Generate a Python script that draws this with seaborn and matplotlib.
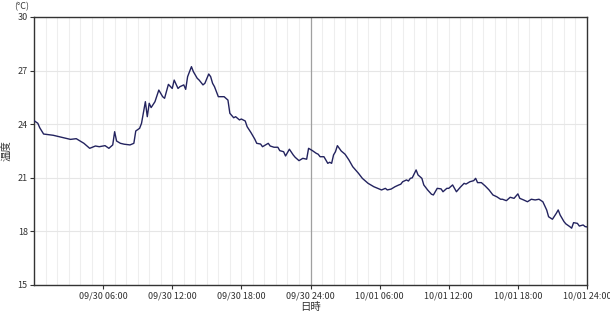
import matplotlib
matplotlib.use("Agg")
import matplotlib.pyplot as plt
import seaborn as sns
import pandas as pd
from matplotlib.ticker import MultipleLocator

# minutes since 09/30 00:00
minutes = [0, 20, 30, 50, 100, 150, 190, 220, 260, 290, 320, 340, 370, 390, 410, 420, 430, 450, 470, 500,
           520, 530, 550, 560, 580, 590, 600, 610, 630, 650, 670, 680, 700, 720, 730, 750, 760, 780, 790, 800,
           820, 830, 850, 860, 880, 890, 910, 920, 930, 940, 960, 980, 990, 1010, 1020, 1040, 1050, 1070, 1080, 1100,
           1110, 1130, 1150, 1160, 1180, 1190, 1220, 1230, 1250, 1270, 1280, 1300, 1310, 1330, 1350, 1360, 1380, 1400, 1420, 1430,
           1450, 1470, 1480, 1490, 1510, 1520, 1530, 1540, 1550, 1560, 1570, 1580, 1600, 1620, 1640, 1660, 1690, 1710, 1740, 1770,
           1790, 1810, 1830, 1840, 1860, 1880, 1900, 1910, 1920, 1940, 1950, 1960, 1970, 1990, 2000, 2020, 2030, 2050, 2070, 2080,
           2100, 2120, 2130, 2150, 2160, 2180, 2200, 2220, 2240, 2250, 2270, 2290, 2300, 2310, 2330, 2350, 2370, 2390, 2410, 2430,
           2440, 2460, 2480, 2500, 2520, 2530, 2550, 2570, 2590, 2610, 2630, 2650, 2670, 2680, 2700, 2720, 2730, 2740, 2760, 2770,
           2790, 2800, 2810, 2830, 2840, 2860, 2870, 2880]
temperature = [24.2, 24.05, 23.8, 23.45, 23.38, 23.25, 23.15, 23.19, 22.93, 22.65, 22.78, 22.74, 22.8, 22.65, 22.84, 23.58, 23.06, 22.93, 22.88, 22.84,
               22.93, 23.62, 23.77, 24.05, 25.26, 24.42, 25.17, 24.93, 25.26, 25.91, 25.54, 25.45, 26.23, 26.0, 26.47, 26.0, 26.1, 26.2, 25.95, 26.66,
               27.22, 26.94, 26.57, 26.47, 26.2, 26.29, 26.81, 26.66, 26.29, 26.1, 25.54, 25.54, 25.54, 25.35, 24.61, 24.36, 24.42, 24.24, 24.29, 24.18,
               23.86, 23.53, 23.16, 22.93, 22.89, 22.74, 22.93, 22.78, 22.71, 22.71, 22.52, 22.46, 22.22, 22.6, 22.28, 22.15, 21.96, 22.09, 22.04, 22.65,
               22.52, 22.37, 22.32, 22.18, 22.18, 22.0, 21.81, 21.87, 21.81, 22.28, 22.46, 22.8, 22.5, 22.32, 22.0, 21.62, 21.25, 20.97, 20.69, 20.5,
               20.41, 20.32, 20.41, 20.32, 20.37, 20.5, 20.6, 20.64, 20.78, 20.88, 20.82, 20.97, 21.0, 21.44, 21.16, 20.97, 20.6, 20.32, 20.08, 20.04,
               20.41, 20.38, 20.22, 20.41, 20.41, 20.6, 20.22, 20.47, 20.69, 20.65, 20.78, 20.84, 20.97, 20.73, 20.73, 20.54, 20.32, 20.04, 19.94, 19.8,
               19.8, 19.72, 19.91, 19.85, 20.1, 19.85, 19.76, 19.66, 19.8, 19.76, 19.8, 19.66, 19.2, 18.82, 18.68, 19.01, 19.2, 18.92, 18.55, 18.42,
               18.27, 18.18, 18.49, 18.45, 18.3, 18.36, 18.27, 18.25]

x_tick_hours = [6, 12, 18, 24, 30, 36, 42, 48]
x_tick_labels = ["09/30 06:00", "09/30 12:00", "09/30 18:00", "09/30 24:00",
                 "10/01 06:00", "10/01 12:00", "10/01 18:00", "10/01 24:00"]
y_ticks = [15, 18, 21, 24, 27, 30]

df = pd.DataFrame({"hour": [m / 60 for m in minutes], "temp": temperature})

sns.set_theme(style="white")
plt.rcParams["font.family"] = ["Noto Sans CJK JP", "DejaVu Sans"]

fig = plt.figure(figsize=(6.10, 3.14), dpi=100)
ax = fig.add_axes([34 / 610, 1 - 285 / 314, (587 - 34) / 610, (285 - 17) / 314])

ax.xaxis.set_minor_locator(MultipleLocator(1))
ax.grid(which="minor", axis="x", color="#eeeeee", linewidth=0.8)
ax.grid(which="major", axis="x", color="#eeeeee", linewidth=0.8)
ax.grid(which="major", axis="y", color="#e6e6e6", linewidth=0.8)
ax.set_axisbelow(True)
ax.axvline(24, color="#a0a0a0", linewidth=0.9, zorder=1)

sns.lineplot(data=df, x="hour", y="temp", ax=ax, color="#23235f", linewidth=1.0, zorder=3)

ax.set_xlim(0, 48)
ax.set_ylim(15, 30)
ax.set_xticks(x_tick_hours)
ax.set_xticklabels(x_tick_labels)
ax.set_yticks(y_ticks)
ax.tick_params(axis="both", which="major", labelsize=6.5, length=3, width=0.8,
               color="#333333", labelcolor="#333333", pad=1.5, direction="out")
ax.tick_params(axis="both", which="minor", length=0)
ax.tick_params(axis="x", bottom=True)
ax.tick_params(axis="y", left=True)
for side in ["left", "bottom", "top", "right"]:
    ax.spines[side].set_color("#333333")
    ax.spines[side].set_linewidth(1.0)

ax.set_xlabel("日時", fontsize=7.5, color="#333333", labelpad=1)
ax.set_ylabel("温度", fontsize=7.5, color="#333333", labelpad=4)
fig.text(14 / 610, 1 - 7 / 314, "(°C)", fontsize=6.5, color="#333333", ha="left", va="center")

fig.savefig("out.png", dpi=100)
